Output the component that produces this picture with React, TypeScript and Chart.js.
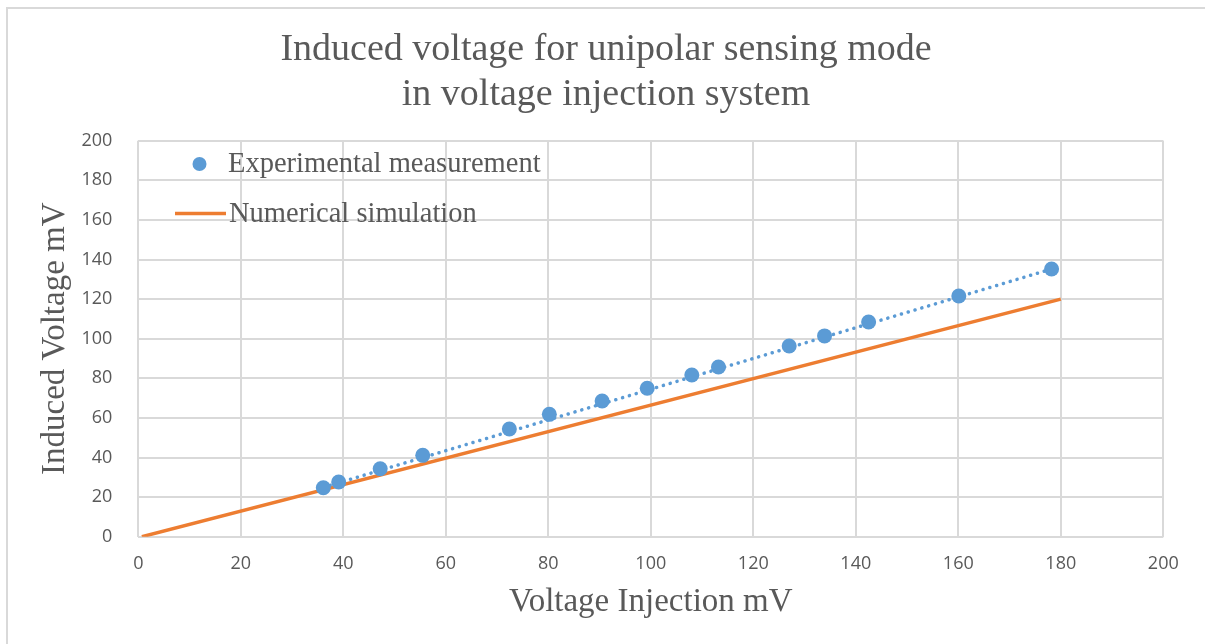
import React, { useEffect, useRef } from "react";
import { Chart, registerables } from "chart.js";

Chart.register(...registerables);

const titleLines = ["Induced voltage for unipolar sensing mode", "in voltage injection system"];
const xAxisTitle = "Voltage Injection mV";
const yAxisTitle = "Induced Voltage mV";
const legendLabels = ["Experimental measurement", "Numerical simulation"];

const expX = [36.1, 39.1, 47.2, 55.5, 72.4, 80.2, 90.5, 99.3, 108.0, 113.2, 127.0, 133.9, 142.5, 160.1, 178.2];
const expY = [24.7, 27.6, 34.3, 41.1, 54.4, 61.8, 68.5, 75.0, 81.7, 85.7, 96.3, 101.4, 108.4, 121.6, 135.2];

const trendX = [36.1, 178.2];
const trendY = [24.9, 135.2];

const simX = [0.7, 180];
const simY = [0, 120];

const xTicks = [0, 20, 40, 60, 80, 100, 120, 140, 160, 180, 200];
const yTicks = [0, 20, 40, 60, 80, 100, 120, 140, 160, 180, 200];

const BLUE = "#5B9BD5";
const ORANGE = "#ED7D31";
const TEXT = "#595959";
const GRID = "#d9d9d9";
const SERIF = "'Liberation Serif', 'Times New Roman', serif";

const W = 1205;
const H = 644;

const decorPlugin = {
  id: "decor",
  beforeDraw(chart: any) {
    const ctx = chart.ctx;
    ctx.save();
    ctx.fillStyle = "#ffffff";
    ctx.fillRect(0, 0, W, H);
    ctx.strokeStyle = GRID;
    ctx.lineWidth = 2;
    ctx.beginPath();
    ctx.moveTo(7, H);
    ctx.lineTo(7, 8);
    ctx.lineTo(W, 8);
    ctx.stroke();
    ctx.restore();
  },
  afterDraw(chart: any) {
    const ctx = chart.ctx;
    const area = chart.chartArea;
    ctx.save();
    ctx.fillStyle = TEXT;
    // title
    ctx.font = `38px ${SERIF}`;
    ctx.textAlign = "center";
    ctx.textBaseline = "alphabetic";
    ctx.fillText(titleLines[0], 606, 60);
    ctx.fillText(titleLines[1], 606, 105);
    // x axis title
    ctx.font = `33px ${SERIF}`;
    ctx.fillText(xAxisTitle, (area.left + area.right) / 2, 611);
    // y axis title
    ctx.save();
    ctx.translate(64, (area.top + area.bottom) / 2);
    ctx.rotate(-Math.PI / 2);
    ctx.fillText(yAxisTitle, 0, 0);
    ctx.restore();
    // legend
    ctx.font = `28.5px ${SERIF}`;
    ctx.textAlign = "left";
    ctx.fillStyle = BLUE;
    ctx.beginPath();
    ctx.arc(199.5, 164, 7, 0, Math.PI * 2);
    ctx.fill();
    ctx.strokeStyle = ORANGE;
    ctx.lineWidth = 3.5;
    ctx.beginPath();
    ctx.moveTo(175, 213.5);
    ctx.lineTo(226, 213.5);
    ctx.stroke();
    ctx.fillStyle = TEXT;
    ctx.fillText(legendLabels[0], 228, 171.5);
    ctx.fillText(legendLabels[1], 229, 221.5);
    ctx.restore();
  },
};

export default function App() {
  const canvasRef = useRef<HTMLCanvasElement | null>(null);

  useEffect(() => {
    const canvas = canvasRef.current;
    if (!canvas) return;
    const chart = new Chart(canvas, {
      type: "scatter",
      data: {
        datasets: [
          {
            label: legendLabels[0],
            data: expX.map((x, i) => ({ x, y: expY[i] })),
            backgroundColor: BLUE,
            borderColor: BLUE,
            borderWidth: 0,
            pointRadius: 7.5,
            showLine: false,
          },
          {
            label: "Linear (" + legendLabels[0] + ")",
            data: trendX.map((x, i) => ({ x, y: trendY[i] })),
            borderColor: BLUE,
            borderWidth: 3.5,
            borderDash: [0.1, 7],
            borderCapStyle: "round",
            pointRadius: 0,
            showLine: true,
          },
          {
            label: legendLabels[1],
            data: simX.map((x, i) => ({ x, y: simY[i] })),
            borderColor: ORANGE,
            backgroundColor: ORANGE,
            borderWidth: 3.5,
            pointRadius: 0,
            showLine: true,
          },
        ] as any,
      },
      options: {
        responsive: false,
        animation: false,
        devicePixelRatio: 1,
        layout: { padding: { top: 140.7, right: 41.7, left: 0, bottom: 0 } },
        plugins: {
          legend: { display: false },
          title: { display: false },
          tooltip: { enabled: false },
        },
        scales: {
          x: {
            type: "linear",
            min: 0,
            max: 200,
            afterBuildTicks: (s: any) => {
              s.ticks = xTicks.map((v) => ({ value: v }));
            },
            afterFit: (s: any) => {
              s.height = H - 536.7;
            },
            ticks: {
              color: TEXT,
              font: { family: "'Open Sans', sans-serif", size: 18 },
              padding: 16,
              maxRotation: 0,
            },
            grid: { color: GRID, lineWidth: 2, drawTicks: false },
            border: { display: false },
          },
          y: {
            type: "linear",
            min: 0,
            max: 200,
            afterBuildTicks: (s: any) => {
              s.ticks = yTicks.map((v) => ({ value: v }));
            },
            afterFit: (s: any) => {
              s.width = 138.3;
            },
            ticks: {
              color: TEXT,
              font: { family: "'Open Sans', sans-serif", size: 18 },
              padding: 26,
            },
            grid: { color: GRID, lineWidth: 2, drawTicks: false },
            border: { display: false },
          },
        },
      } as any,
      plugins: [decorPlugin],
    });
    return () => chart.destroy();
  }, []);

  return (
    <div style={{ position: "absolute", left: 0, top: 0, width: W, height: H, background: "#fff" }}>
      <canvas ref={canvasRef} width={W} height={H} style={{ display: "block", width: W, height: H }} />
    </div>
  );
}
